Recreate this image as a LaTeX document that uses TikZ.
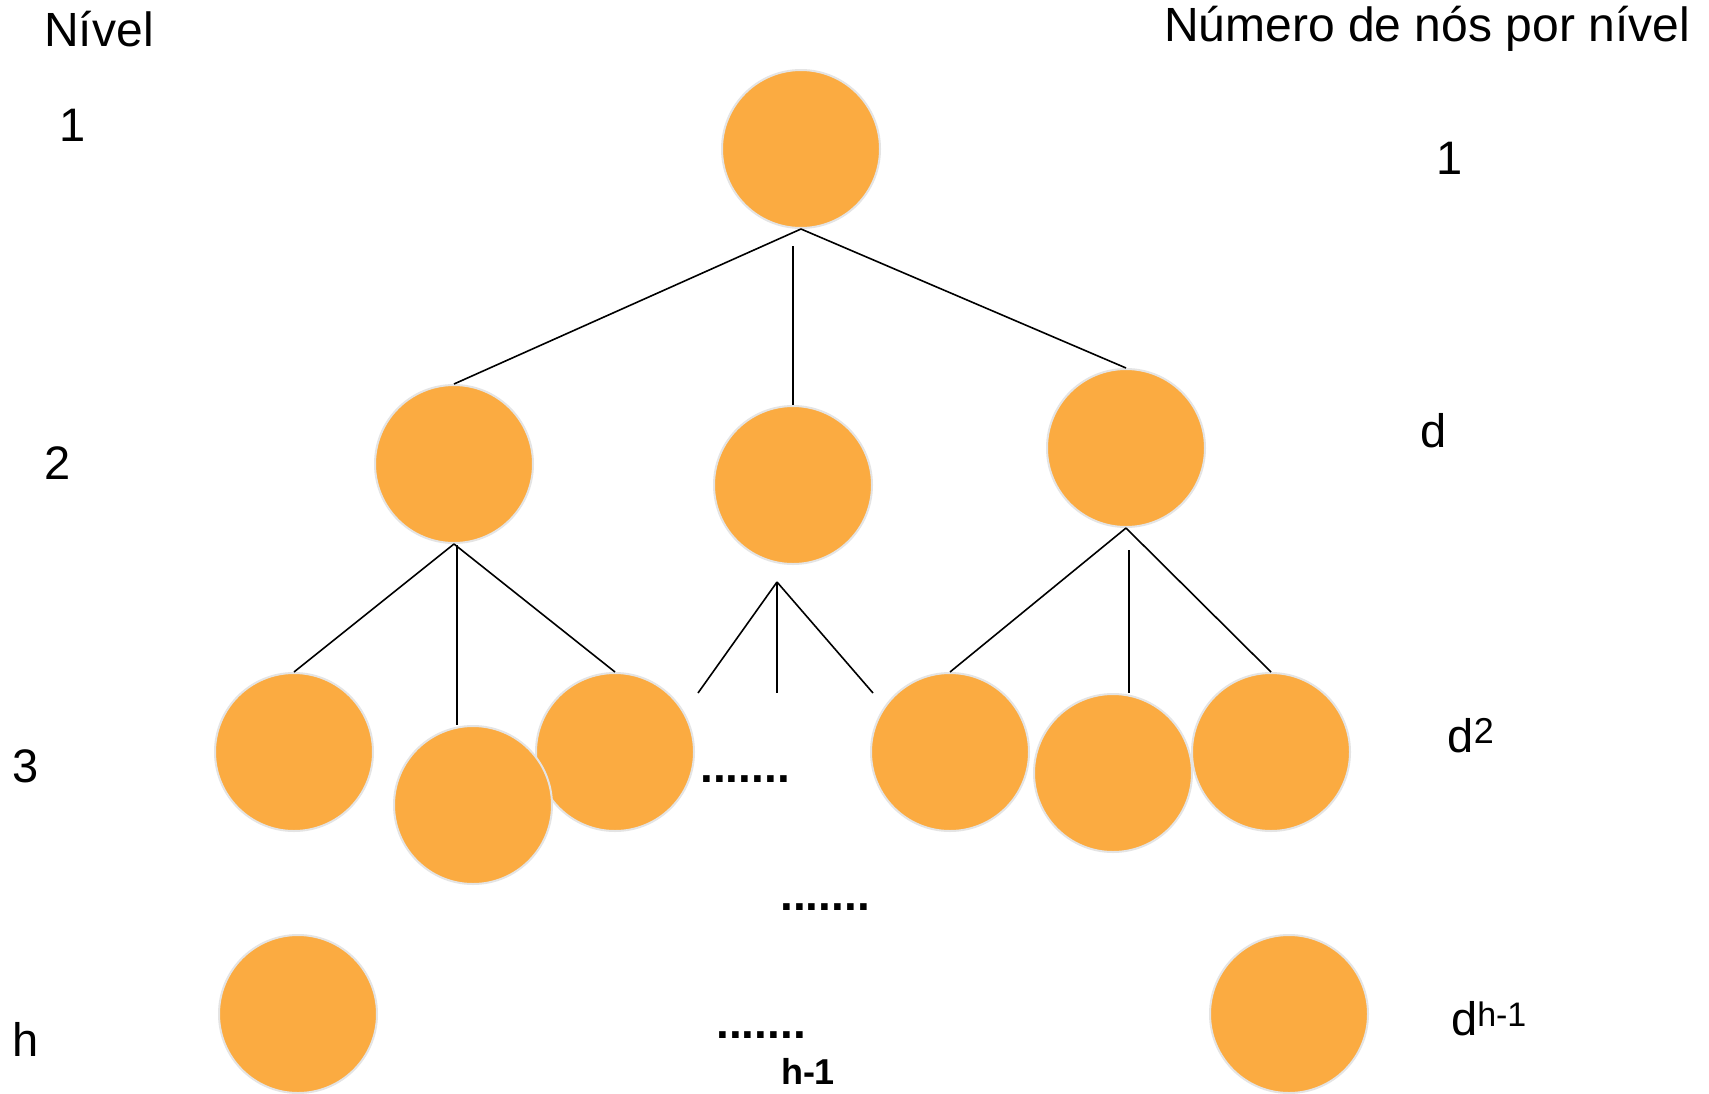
\documentclass[tikz,border=0pt]{standalone}
\usepackage{fontspec}
\setmainfont{Liberation Sans}
\definecolor{nodeorange}{HTML}{FBAB41}
\definecolor{nodeedge}{HTML}{E4E4E4}
\begin{document}
\begin{tikzpicture}[x=1pt,y=-1pt,
  treenode/.style={circle,fill=nodeorange,draw=nodeedge,line width=2pt,minimum size=158pt,inner sep=0pt},
  edge/.style={line width=1.6pt,black},
  lbl/.style={inner sep=0pt,font=\fontsize{47}{56}\selectfont},
  head/.style={inner sep=0pt,font=\fontsize{48}{58}\selectfont},
  dots/.style={inner sep=0pt,font=\fontsize{46}{55}\selectfont\bfseries},
  small/.style={inner sep=0pt,font=\fontsize{36}{43}\selectfont\bfseries}]
\useasboundingbox[fill=white] (0,0) rectangle (1709,1093);
% nodes
\node[treenode] (root) at (801,149) {};
\node[treenode] (l2a) at (454,464) {};
\node[treenode] (l2b) at (793,485) {};
\node[treenode] (l2c) at (1126,448) {};
\node[treenode] (l3a) at (294,752) {};
\node[treenode] (l3c) at (615,752) {};
\node[treenode] (l3b) at (473,805) {};
\node[treenode] (l3d) at (950,752) {};
\node[treenode] (l3e) at (1113,773) {};
\node[treenode] (l3f) at (1271,752) {};
\node[treenode] (lha) at (298,1014) {};
\node[treenode] (lhb) at (1289,1014) {};
% coordinates
\coordinate (rv) at (793,246);
\coordinate (lv) at (457,545);
\coordinate (ma) at (777,582);
\coordinate (m1) at (698,693);
\coordinate (m2) at (873,693);
\coordinate (m3) at (777,693);
\coordinate (cv) at (1129,550);
% edges
\draw[edge] (root.south) -- (l2a.north);
\draw[edge] (root.south) -- (l2c.north);
\draw[edge] (rv) -- (l2b.north);
\draw[edge] (l2a.south) -- (l3a.north);
\draw[edge] (l2a.south) -- (l3c.north);
\draw[edge] (lv) -- (lv |- l3b.north);
\draw[edge] (ma) -- (m1);
\draw[edge] (ma) -- (m2);
\draw[edge] (ma) -- (m3);
\draw[edge] (l2c.south) -- (l3d.north);
\draw[edge] (l2c.south) -- (l3f.north);
\draw[edge] (cv) -- (cv |- l3e.north);
% labels
\node[head] (tnivel) at (99,29) {Nível};
\node[head] (tnum) at (1427,29) {Número de nós por nível};
\node[lbl] (n1) at (73,125) {1};
\node[lbl] (n2) at (58,463) {2};
\node[lbl] (n3) at (26,766) {3};
\node[lbl] (nh) at (26,1039) {h};
\node[lbl] (c1) at (1450,158) {1};
\node[lbl] (cd) at (1434,431) {d};
\node[lbl] (cd2) at (1471,736) {d\textsuperscript{\fontsize{36}{40}\selectfont 2}};
\node[lbl] (cdh) at (1489,1019) {d\textsuperscript{\fontsize{34}{40}\selectfont h-1}};
\node[dots] (d1) at (745,779) {.......};
\node[dots] (d2) at (825,907) {.......};
\node[dots] (d3) at (761,1035) {.......};
\node[small] (hm1) at (808,1071) {h-1};
\end{tikzpicture}
\end{document}
